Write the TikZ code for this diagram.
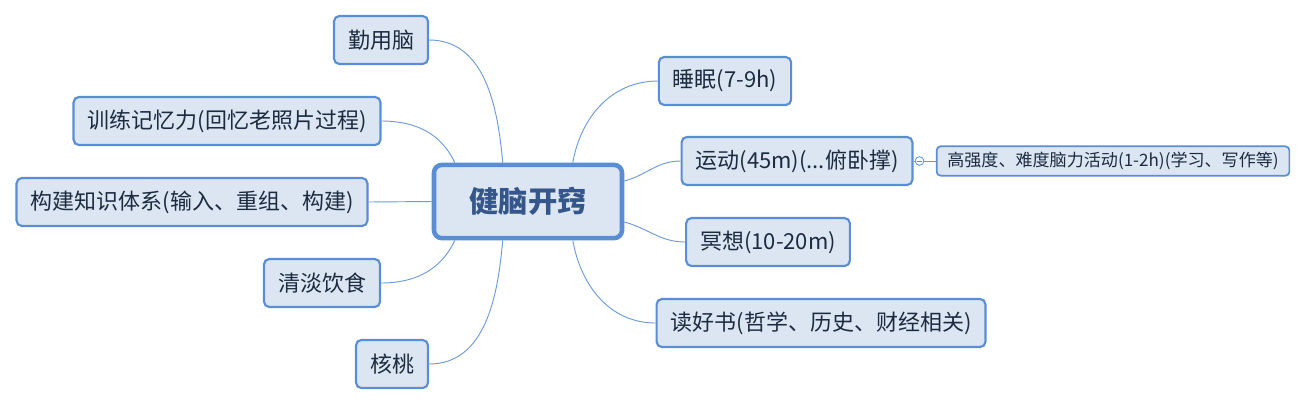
\documentclass[tikz,border=0pt]{standalone}
\usepackage{fontspec}
\setmainfont{Noto Sans CJK SC}
\usepackage{xcolor}
\usetikzlibrary{positioning}

\definecolor{mapfill}{HTML}{DCE6F2}
\definecolor{mapline}{HTML}{5A8ED4}
\definecolor{maptext}{HTML}{1C2B40}
\definecolor{roottext}{HTML}{34568A}
\definecolor{linkcol}{HTML}{6D9BD9}

\tikzset{
    topic/.style={draw=mapline, line width=1.6pt, fill=mapfill, rounded corners=4pt,
        text=maptext, font=\fontsize{16.5}{19}\selectfont, minimum height=36pt,
        inner xsep=10.5pt},
    subtopic/.style={topic, line width=1.3pt, font=\fontsize{12.8}{15}\selectfont,
        minimum height=22pt, inner xsep=8pt, rounded corners=3pt},
    link/.style={draw=linkcol, line width=0.7pt}
}

\begin{document}
\begin{tikzpicture}[x=0.75pt, y=-0.75pt]
    \useasboundingbox (0,0) rectangle (1308,405);

    % central topic
    \node (root) [draw=mapline, line width=3.4pt, fill=mapfill, rounded corners=6pt,
        minimum width=141pt, minimum height=55pt, text=roottext,
        font=\bfseries\fontsize{22}{26}\selectfont] at (528,201.5) {健脑开窍};

    % left side
    \node (qinyong) [topic] at (381,40) {勤用脑};
    \node (xunlian) [topic] at (227,121) {训练记忆力(回忆老照片过程)};
    \node (goujian) [topic] at (192,202) {构建知识体系(输入、重组、构建)};
    \node (qingdan) [topic] at (322,283) {清淡饮食};
    \node (hetao) [topic] at (392,364) {核桃};

    % right side
    \node (shuimian) [topic] at (725,81) {睡眠(7-9h)};
    \node (yundong) [topic] at (797,161) {运动(45m)(...俯卧撑)};
    \node (mingxiang) [topic] at (768,242) {冥想(10-20m)};
    \node (dushu) [topic] at (821,323) {读好书(哲学、历史、财经相关)};

    % subtopic of yundong
    \node (fold) [circle, draw=mapline, fill=white, line width=0.6pt, inner sep=0pt,
        minimum size=6.5pt] at (919.5,161) {};
    \draw [mapline, line width=0.6pt] ([xshift=-1.8pt]fold.center) -- ([xshift=1.8pt]fold.center);
    \node (gaoqiang) [subtopic] at (1113,161) {高强度、难度脑力活动(1-2h)(学习、写作等)};

    % connectors
    \draw [link] (root.123) to[out=95, in=0] (qinyong.east);
    \draw [link] (root.152) to[out=115, in=0] (xunlian.east);
    \draw [link] (root.west) -- (goujian.east);
    \draw [link] (root.208) to[out=-115, in=0] (qingdan.east);
    \draw [link] (root.237) to[out=-95, in=0] (hetao.east);

    \draw [link] (root.41) to[out=80, in=180] (shuimian.west);
    \draw [link] (root.12) to[out=15, in=180] (yundong.west);
    \draw [link] (root.-12) to[out=-15, in=180] (mingxiang.west);
    \draw [link] (root.-41) to[out=-80, in=180] (dushu.west);

    \draw [link] (yundong.east) -- (fold.west);
    \draw [link] (fold.east) -- (gaoqiang.west);
\end{tikzpicture}
\end{document}
